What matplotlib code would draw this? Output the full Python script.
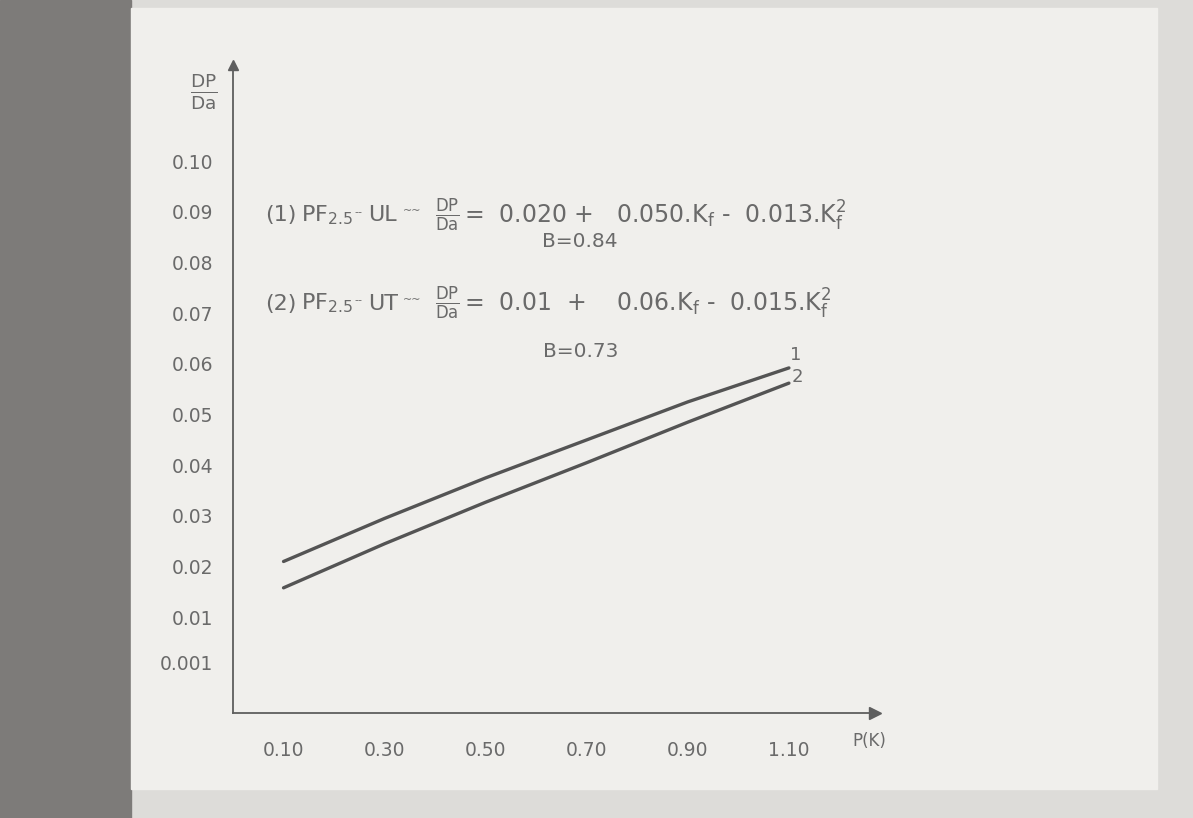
import numpy as np
import matplotlib.pyplot as plt
from matplotlib.patches import Rectangle

# values
kf = [0.10, 0.30, 0.50, 0.70, 0.90, 1.10]
curve_1 = [0.0210, 0.0295, 0.0375, 0.0450, 0.0525, 0.0592]
curve_2 = [0.0158, 0.0245, 0.0327, 0.0405, 0.0485, 0.0562]

x_ticks = [0.10, 0.30, 0.50, 0.70, 0.90, 1.10]
x_labels = ['0.10', '0.30', '0.50', '0.70', '0.90', '1.10']
y_ticks = [0.10, 0.09, 0.08, 0.07, 0.06, 0.05, 0.04, 0.03, 0.02, 0.01, 0.001]
y_labels = ['0.10', '0.09', '0.08', '0.07', '0.06', '0.05', '0.04', '0.03', '0.02', '0.01', '0.001']

# regression equations written on the chart
eq_no = ['(1)', '(2)']
eq_lhs = ['UL', 'UT']
eq_rhs = [r'=  0.020 +   0.050.K$_f$ -  0.013.K$_f^2$',
          r'=  0.01  +    0.06.K$_f$ -  0.015.K$_f^2$']
eq_r = ['B=0.84', 'B=0.73']

plt.rcParams['mathtext.default'] = 'regular'
ink = '#6a6a6a'
line_ink = '#545454'

fig = plt.figure(figsize=(11.93, 8.18), dpi=100, facecolor='#dddcd9')
# dark strip on the left of the photo, lighter paper in the middle
fig.patches.append(Rectangle((0, 0), 0.11, 1, transform=fig.transFigure,
                             color='#7d7b79', zorder=-2))
fig.patches.append(Rectangle((0.11, 0.035), 0.86, 0.955, transform=fig.transFigure,
                             color='#f0efec', zorder=-1))

ax = fig.add_axes([0.1953, 0.1284, 0.538, 0.7922])
ax.set_zorder(2)
ax.set_facecolor('none')
ax.set_xlim(0, 1.27)
ax.set_ylim(-0.0089, 0.119)

ax.plot(kf, curve_1, color=line_ink, lw=2.4, solid_capstyle='round')
ax.plot(kf, curve_2, color=line_ink, lw=2.4, solid_capstyle='round')
ax.text(kf[-1] + 0.002, curve_1[-1] + 0.0008, '1', color=ink, fontsize=13,
        ha='left', va='bottom')
ax.text(kf[-1] + 0.006, curve_2[-1] + 0.0012, '2', color=ink, fontsize=13,
        ha='left', va='center')

for s in ['top', 'right']:
    ax.spines[s].set_visible(False)
for s in ['left', 'bottom']:
    ax.spines[s].set_color('#5e5e5e')
    ax.spines[s].set_linewidth(1.3)

# arrow heads on the axes
ax.plot(0, 1, marker='^', ms=7, color='#5e5e5e', transform=ax.transAxes, clip_on=False)
ax.plot(1, 0, marker='>', ms=8, color='#5e5e5e', transform=ax.transAxes, clip_on=False)

ax.set_xticks(x_ticks)
ax.set_xticklabels(x_labels)
ax.set_yticks(y_ticks)
ax.set_yticklabels(y_labels)
ax.tick_params(axis='both', length=0, labelsize=13.5, labelcolor=ink)
ax.tick_params(axis='x', pad=20)
ax.tick_params(axis='y', pad=14)

ax.text(-0.03, 0.1137, r'$\frac{DP}{Da}$', fontsize=19,
        color=ink, ha='right', va='center')
ax.text(1.26, -0.0145, 'P(K)', color=ink, fontsize=12, ha='center', va='center',
        clip_on=False)

eq_y = [0.0893, 0.0719]
r_y = [0.0842, 0.0625]
for i in range(2):
    y = eq_y[i]
    ax.text(0.063, y, eq_no[i], color=ink, fontsize=16, ha='left', va='center')
    ax.text(0.135, y, r'PF$_{2.5}$', color=ink, fontsize=16, ha='left', va='center')
    ax.text(0.240, y + 0.0006, '--', color=ink, fontsize=8, ha='left', va='center')
    ax.text(0.268, y, eq_lhs[i], color=ink, fontsize=16, ha='left', va='center')
    ax.text(0.336, y + 0.0008, '~~', color=ink, fontsize=8, ha='left', va='center')
    ax.text(0.425, y, r'$\frac{DP}{Da}$', color=ink, fontsize=17, ha='center', va='center')
    ax.text(0.458, y, eq_rhs[i], color=ink, fontsize=17, ha='left', va='center')
    ax.text(0.687, r_y[i], eq_r[i], color=ink, fontsize=14.5, ha='center', va='center')

fig.savefig('out.png', dpi=100, facecolor=fig.get_facecolor())
